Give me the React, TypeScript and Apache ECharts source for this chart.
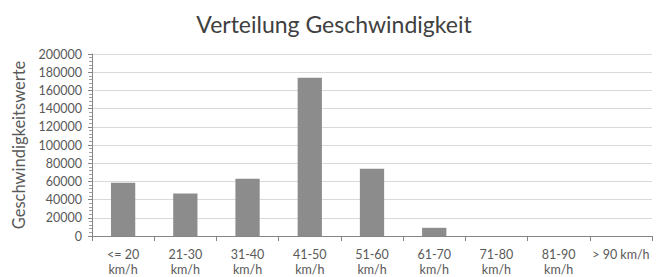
import React, { useEffect, useRef } from "react";
import * as echarts from "echarts";

const categories = ["<= 20\nkm/h", "21-30\nkm/h", "31-40\nkm/h", "41-50\nkm/h", "51-60\nkm/h", "61-70\nkm/h", "71-80\nkm/h", "81-90\nkm/h", "> 90 km/h"];
const values = [58500, 46700, 63000, 174000, 73800, 9000, 0, 0, 0];
const yTicks = { min: 0, max: 200000, interval: 20000 };

export default function App() {
  const ref = useRef<HTMLDivElement>(null);
  useEffect(() => {
    const chart = echarts.init(ref.current!, null, { renderer: "svg" });
    const font = "Lato, 'Open Sans', sans-serif";
    chart.setOption({
      animation: false,
      backgroundColor: "#ffffff",
      title: {
        text: "Verteilung Geschwindigkeit",
        left: 329,
        textAlign: "center",
        top: 7,
        textStyle: { fontFamily: font, fontSize: 23, fontWeight: "normal", color: "#404040" },
      },
      grid: { left: 92, right: 10, top: 54, bottom: 41, containLabel: false },
      xAxis: {
        type: "category",
        data: categories,
        axisLine: { lineStyle: { color: "#868686" } },
        axisTick: { show: true, length: 5, lineStyle: { color: "#868686" } },
        axisLabel: { fontFamily: font, fontSize: 12.5, color: "#595959", lineHeight: 15, margin: 11, interval: 0 },
      },
      yAxis: {
        type: "value",
        min: yTicks.min,
        max: yTicks.max,
        interval: yTicks.interval,
        name: "Geschwindigkeitswerte",
        nameLocation: "middle",
        nameGap: 55,
        nameTextStyle: { fontFamily: font, fontSize: 16.5, color: "#595959" },
        axisLine: { show: true, lineStyle: { color: "#868686" } },
        axisTick: { show: true, length: 4, lineStyle: { color: "#868686" } },
        minorTick: { show: true, splitNumber: 5, length: 3, lineStyle: { color: "#a0a0a0" } },
        splitLine: { lineStyle: { color: "#d9d9d9" } },
        axisLabel: { fontFamily: font, fontSize: 12.5, color: "#595959", margin: 10, formatter: (v: number) => String(v) },
      },
      series: [
        {
          type: "bar",
          data: values,
          barWidth: "39%",
          itemStyle: { color: "#8c8c8c" },
        },
      ],
    });
    return () => chart.dispose();
  }, []);
  return <div ref={ref} style={{ width: 662, height: 277, position: "absolute", left: 0, top: 0 }} />;
}
